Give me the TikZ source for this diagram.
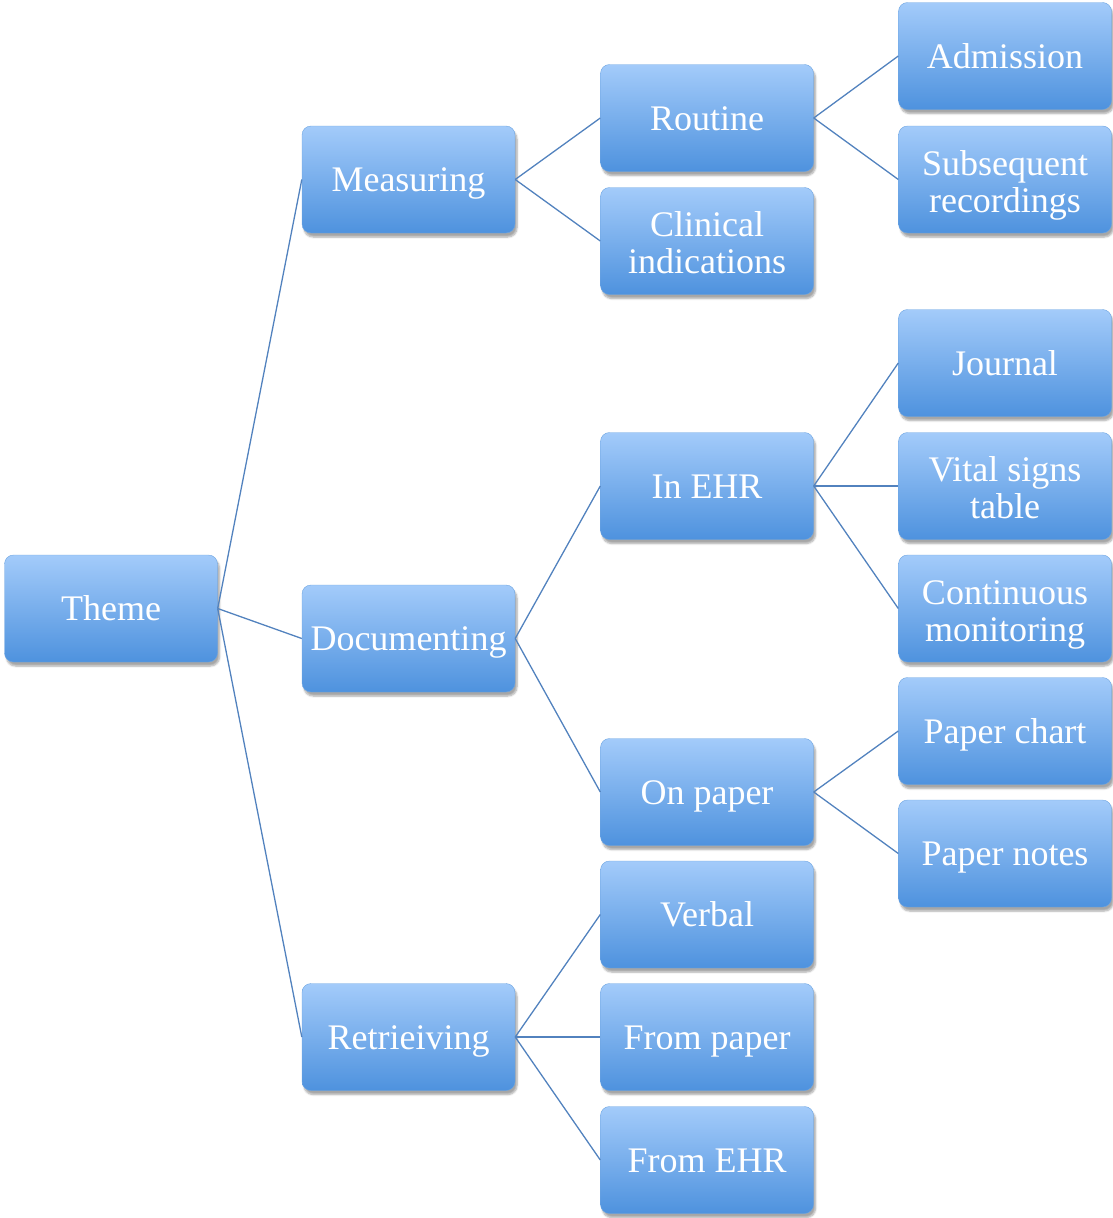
\documentclass[tikz,border=0pt]{standalone}
\usepackage{fontspec}
\setmainfont{Liberation Serif}
\usetikzlibrary{shadows.blur}
\definecolor{boxtop}{RGB}{163,203,250}
\definecolor{boxbot}{RGB}{78,146,222}
\definecolor{boxedge}{RGB}{110,165,225}
\definecolor{linkcol}{RGB}{82,130,190}
\newcommand{\toplift}{\rule{0pt}{38pt}}
\tikzset{
  topic/.style={
    rounded corners=9pt, minimum width=213pt, minimum height=107pt,
    inner sep=2pt, align=center, text=white,
    top color=boxtop, bottom color=boxbot, draw=boxedge, line width=0.4pt,
    blur shadow={shadow xshift=2pt, shadow yshift=-4pt, shadow blur steps=6, shadow opacity=35},
    font=\fontsize{36}{37}\selectfont,
    % fixed struts keep the baselines at the same place in every box
    execute at begin node={\rule{0pt}{34pt}},
    execute at end node={\rule[-10pt]{0pt}{10pt}}
  },
  link/.style={draw=linkcol, line width=1.3pt}
}
\begin{document}
\begin{tikzpicture}[x=1pt, y=-1pt]
  \useasboundingbox (0,0) rectangle (1113,1218);
  % level 1
  \node[topic] (theme) at (111,608.5) {Theme};
  % level 2
  \node[topic] (meas) at (408.5,179.5) {Measuring};
  \node[topic] (doc)  at (408.5,638.5) {Documenting};
  \node[topic] (ret)  at (408.5,1037)  {Retrieiving};
  % level 3
  \node[topic] (routine)  at (707,118)    {Routine};
  \node[topic] (clinical) at (707,241)    {\toplift Clinical\\indications};
  \node[topic] (inehr)    at (707,486)    {In EHR};
  \node[topic] (onpaper)  at (707,792)    {On paper};
  \node[topic] (verbal)   at (707,914.5)  {Verbal};
  \node[topic] (frompaper) at (707,1037)  {From paper};
  \node[topic] (fromehr)  at (707,1160)   {From EHR};
  % level 4
  \node[topic] (adm)     at (1005,56)     {Admission};
  \node[topic] (subseq)  at (1005,179.5)  {\toplift Subsequent\\recordings};
  \node[topic] (journal) at (1005,363)    {Journal};
  \node[topic] (vital)   at (1005,486)    {\toplift Vital signs\\table};
  \node[topic] (cont)    at (1005,608.5)  {\toplift Continuous\\monitoring};
  \node[topic] (pchart)  at (1005,731)    {Paper chart};
  \node[topic] (pnotes)  at (1005,853.5)  {Paper notes};
  % connectors
  \foreach \a/\b in {theme/meas, theme/doc, theme/ret,
      meas/routine, meas/clinical, doc/inehr, doc/onpaper,
      ret/verbal, ret/frompaper, ret/fromehr,
      routine/adm, routine/subseq, inehr/journal, inehr/vital, inehr/cont,
      onpaper/pchart, onpaper/pnotes}
    \draw[link] (\a.east) -- (\b.west);
\end{tikzpicture}
\end{document}
